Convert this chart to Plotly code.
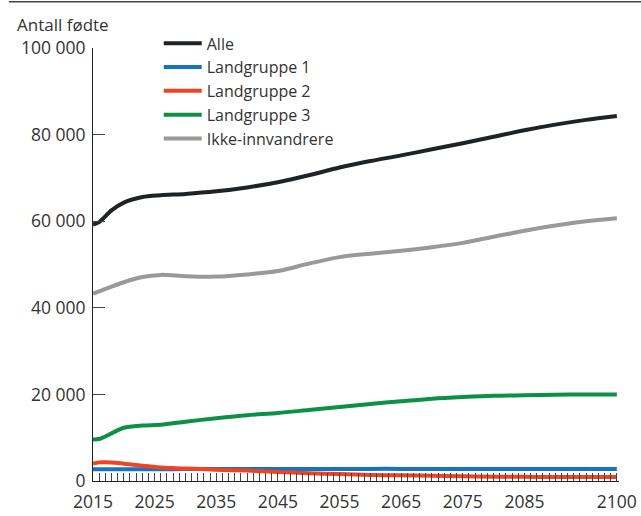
import plotly.graph_objects as go

# Births per year by group, projection 2015-2100
years = [2015, 2016, 2018, 2020, 2023, 2026, 2030, 2035, 2040, 2045, 2050,
         2055, 2060, 2065, 2070, 2075, 2080, 2085, 2090, 2095, 2100]

alle = [59200, 59800, 62500, 64300, 65600, 66000, 66300, 66900, 67800, 69000, 70600,
        72400, 73900, 75200, 76600, 78000, 79500, 81000, 82300, 83400, 84300]
landgruppe1 = [2700, 2700, 2700, 2700, 2700, 2700, 2750, 2750, 2750, 2750, 2750,
               2750, 2800, 2800, 2800, 2800, 2800, 2800, 2800, 2800, 2800]
landgruppe2 = [4000, 4300, 4300, 4000, 3500, 3100, 2900, 2600, 2400, 2100, 1800,
               1600, 1400, 1300, 1200, 1100, 1000, 1000, 900, 900, 900]
landgruppe3 = [9600, 9700, 11000, 12300, 12800, 13000, 13700, 14500, 15200, 15700, 16400,
               17100, 17800, 18400, 19000, 19400, 19700, 19800, 19900, 20000, 20000]
ikke_innvandrere = [43300, 43800, 44900, 45900, 47100, 47600, 47300, 47200, 47700, 48500, 50200,
                    51700, 52500, 53200, 54000, 55000, 56400, 57800, 59000, 60000, 60700]

label_years = [2015, 2025, 2035, 2045, 2055, 2065, 2075, 2085, 2100]
y_ticks = [0, 20000, 40000, 60000, 80000, 100000]
y_labels = ["0", "20 000", "40 000", "60 000", "80 000", "100 000"]

series = [
    ("Alle", alle, "#1f2326"),
    ("Landgruppe 1", landgruppe1, "#1673c0"),
    ("Landgruppe 2", landgruppe2, "#ef4424"),
    ("Landgruppe 3", landgruppe3, "#0b9046"),
    ("Ikke-innvandrere", ikke_innvandrere, "#999999"),
]

FONT = "Open Sans"
TEXT = "#333333"
fig = go.Figure()
for name, vals, color in series:
    fig.add_trace(go.Scatter(
        x=years, y=vals, name=name, mode="lines",
        line=dict(color=color, width=4, shape="spline", smoothing=0.8),
    ))

all_years = list(range(2015, 2101))
fig.update_xaxes(
    range=[2015, 2100.35],
    tickmode="array",
    tickvals=all_years,
    ticktext=[str(y) if y in label_years else "" for y in all_years],
    ticks="inside", ticklen=8, tickwidth=1, tickcolor="#444444",
    showline=True, linecolor="#222222", linewidth=1,
    showgrid=False, zeroline=False, ticklabelstandoff=5, automargin=False,
    tickfont=dict(family=FONT, size=17.5, color=TEXT),
)
fig.update_yaxes(
    range=[0, 100000],
    tickmode="array", tickvals=y_ticks, ticktext=y_labels,
    ticks="inside", ticklen=12, tickwidth=1, tickcolor="#444444",
    showline=True, linecolor="#222222", linewidth=1,
    showgrid=False, zeroline=False, ticklabelstandoff=3, automargin=False,
    tickfont=dict(family=FONT, size=17.5, color=TEXT),
)

fig.update_layout(
    width=641, height=516,
    margin=dict(l=93, r=22, t=48, b=35, autoexpand=False),
    plot_bgcolor="white", paper_bgcolor="white",
    font=dict(family=FONT, size=16, color=TEXT),
    showlegend=True,
    legend=dict(
        x=0.125, y=1.05, xanchor="left", yanchor="top",
        bgcolor="rgba(0,0,0,0)", borderwidth=0,
        font=dict(family=FONT, size=16, color=TEXT),
        tracegroupgap=0, itemwidth=38,
    ),
    annotations=[dict(
        text="Antall fødte", xref="paper", yref="paper",
        x=-0.148, y=1.0, xanchor="left", yanchor="bottom", yshift=10,
        showarrow=False, font=dict(family=FONT, size=17, color=TEXT),
    )],
    shapes=[dict(
        type="line", xref="paper", yref="paper",
        x0=-0.16, x1=1.05, y0=1.107, y1=1.107,
        line=dict(color="#444444", width=1.5),
    )],
)

fig.write_html("out.html")
